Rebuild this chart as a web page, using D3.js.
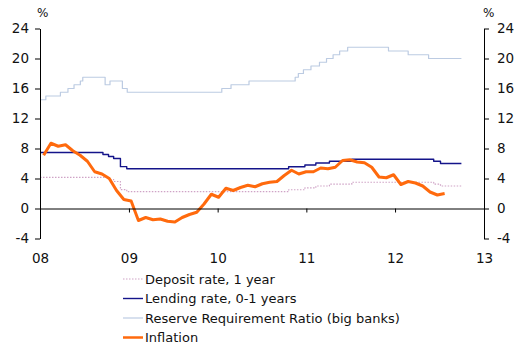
<!DOCTYPE html>
<html>
<head>
<meta charset="utf-8">
<script src="https://cdn.jsdelivr.net/npm/d3@7"></script>
<style>
  body { margin: 0; background: #fff; }
  svg text { font-family: "DejaVu Sans", Verdana, sans-serif; fill: #111; }
</style>
</head>
<body>
<svg id="chart" width="515" height="347"></svg>
<script>
// China: policy rates, reserve requirement ratio and CPI inflation, 2008-2012 (%)

// Deposit rate, 1 year: change dates and levels
const depositDates = ["2008-01-01","2008-10-09","2008-10-30","2008-11-27","2008-12-23","2010-10-20","2010-12-26","2011-02-09","2011-04-06","2011-07-07","2012-06-08","2012-07-06","2012-09-30"];
const depositRate  = [4.14, 3.87, 3.60, 2.52, 2.25, 2.50, 2.75, 3.00, 3.25, 3.50, 3.25, 3.00, 3.00];

// Lending rate, 0-1 years
const lendingDates = ["2008-01-01","2008-09-16","2008-10-09","2008-10-30","2008-11-27","2008-12-23","2010-10-20","2010-12-26","2011-02-09","2011-04-06","2011-07-07","2012-06-08","2012-07-06","2012-09-30"];
const lendingRate  = [7.47, 7.20, 6.93, 6.66, 5.58, 5.31, 5.56, 5.81, 6.06, 6.31, 6.56, 6.31, 6.00, 6.00];

// Reserve requirement ratio, big banks
const rrrDates = ["2008-01-01","2008-01-25","2008-03-25","2008-04-25","2008-05-20","2008-06-15","2008-06-25","2008-09-25","2008-10-15","2008-12-05","2008-12-25","2010-01-18","2010-02-25","2010-05-10","2010-11-16","2010-11-29","2010-12-20","2011-01-20","2011-02-24","2011-03-25","2011-04-21","2011-05-18","2011-06-20","2011-12-05","2012-02-24","2012-05-18","2012-09-30"];
const rrrRatio = [14.5, 15.0, 15.5, 16.0, 16.5, 17.0, 17.5, 16.5, 17.0, 16.0, 15.5, 16.0, 16.5, 17.0, 17.5, 18.0, 18.5, 19.0, 19.5, 20.0, 20.5, 21.0, 21.5, 21.0, 20.5, 20.0, 20.0];

// CPI inflation, y/y, Jan 2008 - Aug 2012, one reading every 30 days from mid-January 2008
const inflationStart = "2008-01-16";
const inflation = [
  7.1, 8.7, 8.3, 8.5, 7.7, 7.1, 6.3, 4.9, 4.6, 4.0, 2.4, 1.2,
  1.0, -1.6, -1.2, -1.5, -1.4, -1.7, -1.8, -1.2, -0.8, -0.5, 0.6, 1.9,
  1.5, 2.7, 2.4, 2.8, 3.1, 2.9, 3.3, 3.5, 3.6, 4.4, 5.1, 4.6,
  4.9, 4.9, 5.4, 5.3, 5.5, 6.4, 6.5, 6.2, 6.1, 5.5, 4.2, 4.1,
  4.5, 3.2, 3.6, 3.4, 3.0, 2.2, 1.8, 2.0
];

// Axis ticks
const yTicks = [-4, 0, 4, 8, 12, 16, 20, 24];
const xDomain = ["2008-01-01", "2013-01-01"];

const legendNames = ["Deposit rate, 1 year", "Lending rate, 0-1 years", "Reserve Requirement Ratio (big banks)", "Inflation"];

const parse = d3.timeParse("%Y-%m-%d");
const svg = d3.select("#chart");

const plot = { left: 40, right: 484, top: 28.5, bottom: 238.5 };

const x = d3.scaleTime().domain(xDomain.map(parse)).range([plot.left, plot.right]);
const y = d3.scaleLinear().domain([-4, 24]).range([plot.bottom, plot.top]);

const pairs = (dates, vals) => dates.map((d, i) => ({ date: parse(d), value: vals[i] }));

const styles = {
  deposit:  { color: "#cfa3c6", width: 1.2, dash: "1.5,1.5" },
  lending:  { color: "#14148a", width: 1.4, dash: null },
  rrr:      { color: "#bccbe2", width: 1.2, dash: null },
  inflation:{ color: "#ff6a0d", width: 3,   dash: null }
};

const stepLine = d3.line().curve(d3.curveStepAfter).x(d => x(d.date)).y(d => y(d.value));
const smoothLine = d3.line().x(d => x(d.date)).y(d => y(d.value));

const g = svg.append("g");

function drawSeries(data, line, st) {
  g.append("path")
    .datum(data)
    .attr("fill", "none")
    .attr("stroke", st.color)
    .attr("stroke-width", st.width)
    .attr("stroke-dasharray", st.dash)
    .attr("stroke-linejoin", "round")
    .attr("d", line);
}

// Axes (plain hyphen for negative tick labels)
const fmt = d => String(d);
const leftAxis = d3.axisLeft(y).tickValues(yTicks).tickFormat(fmt).tickSize(5).tickSizeOuter(0).tickPadding(6);
const rightAxis = d3.axisRight(y).tickValues(yTicks).tickFormat(fmt).tickSize(5).tickSizeOuter(0).tickPadding(8);
const bottomAxis = d3.axisBottom(x).ticks(d3.timeYear.every(1)).tickFormat(d3.timeFormat("%y"))
  .tickSize(4).tickSizeOuter(0).tickPadding(41);

function styleAxis(sel) {
  sel.selectAll("path.domain").attr("stroke", "#000").attr("stroke-width", 1);
  sel.selectAll(".tick line").attr("stroke", "#000").attr("stroke-width", 1);
  sel.selectAll("text").attr("font-size", 13.5).attr("fill", "#111")
     .attr("font-family", "'DejaVu Sans', Verdana, sans-serif");
}

svg.append("g").attr("transform", `translate(0,${y(0)})`).call(bottomAxis).call(styleAxis);
svg.append("g").attr("transform", `translate(${plot.left},0)`).call(leftAxis).call(styleAxis);
svg.append("g").attr("transform", `translate(${plot.right},0)`).call(rightAxis).call(styleAxis);

// Series, inflation drawn last so it sits on top
drawSeries(pairs(rrrDates, rrrRatio), stepLine, styles.rrr);
drawSeries(pairs(depositDates, depositRate), stepLine, styles.deposit);
drawSeries(pairs(lendingDates, lendingRate), stepLine, styles.lending);

const t0 = parse(inflationStart);
const inflationData = inflation.map((v, i) => ({ date: d3.timeDay.offset(t0, 30 * i), value: v }));
drawSeries(inflationData, smoothLine, styles.inflation);

// Unit labels
svg.append("text").attr("x", 37).attr("y", 17).attr("font-size", 12).text("%");
svg.append("text").attr("x", 483).attr("y", 17).attr("font-size", 12).text("%");

// Legend
const legendStyles = [styles.deposit, styles.lending, styles.rrr, styles.inflation];
const legend = svg.append("g").attr("transform", "translate(123,279)");
legendNames.forEach((name, i) => {
  const row = legend.append("g").attr("transform", `translate(0,${i * 19.5})`);
  const st = legendStyles[i];
  row.append("line")
    .attr("x1", 0).attr("x2", 20).attr("y1", 0).attr("y2", 0)
    .attr("stroke", st.color)
    .attr("stroke-width", Math.min(st.width, 2.5))
    .attr("stroke-dasharray", st.dash);
  row.append("text")
    .attr("x", 22).attr("y", 0).attr("dy", "0.36em")
    .attr("font-size", 13)
    .text(name);
});
</script>
</body>
</html>
